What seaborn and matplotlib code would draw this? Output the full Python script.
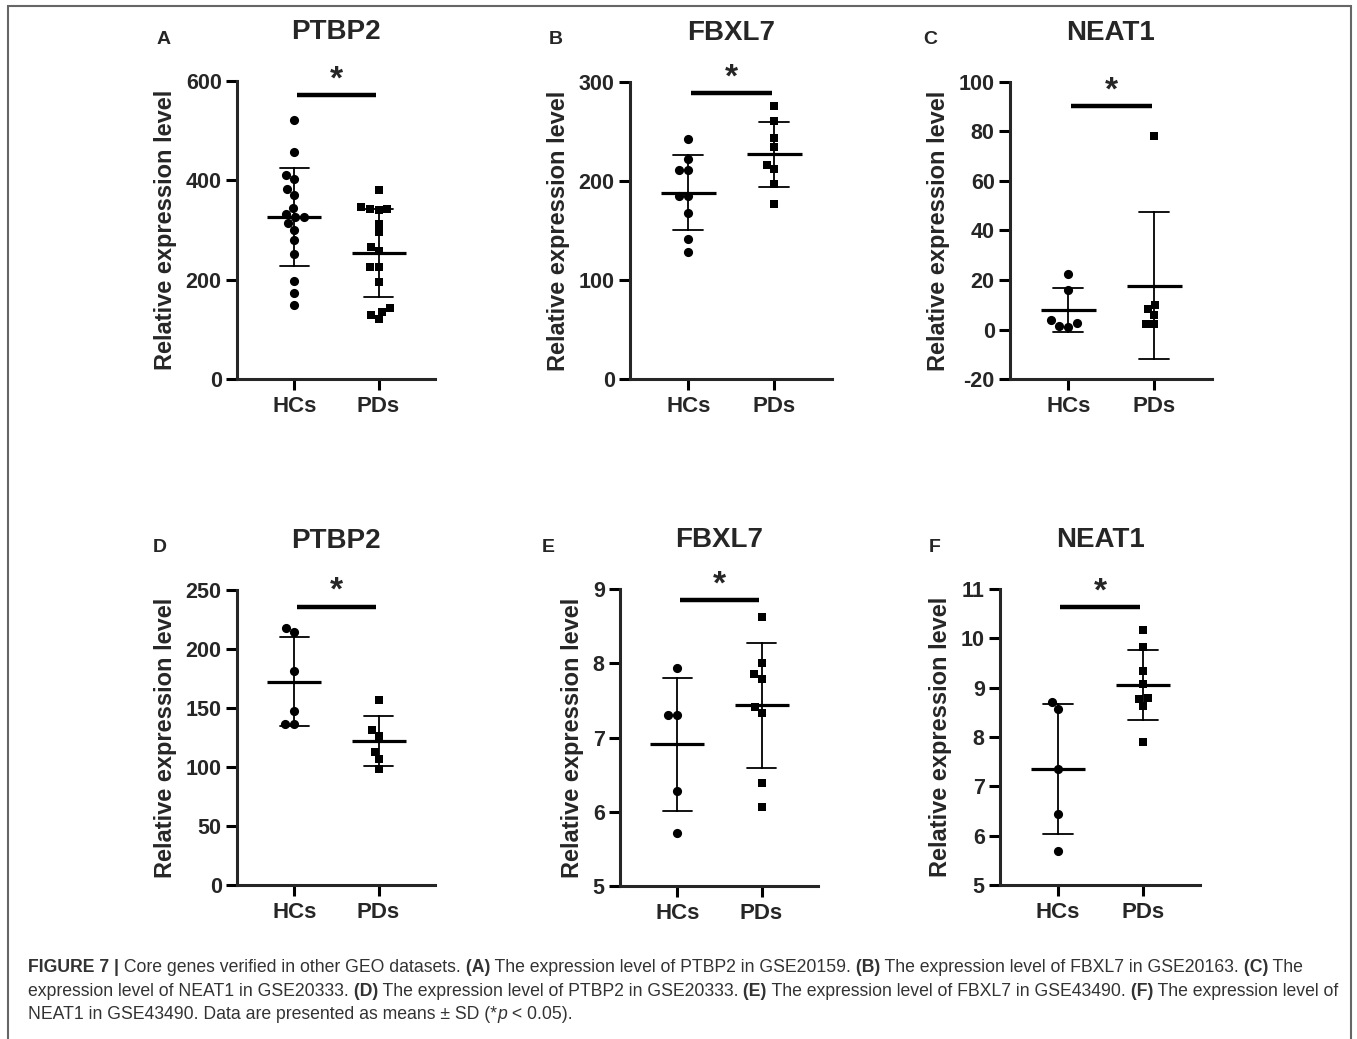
import numpy as np
import pandas as pd
import matplotlib
matplotlib.use('Agg')
import matplotlib.pyplot as plt
import matplotlib.transforms as mtransforms
import seaborn as sns

# data (relative expression level per sample)
groups = ['HCs', 'PDs']

a_hcs = [522, 458, 410, 402, 383, 370, 345, 332, 327, 327, 314, 300, 280, 251, 197, 174, 149]
a_pds = [381, 346, 343, 343, 340, 313, 296, 266, 257, 226, 225, 196, 142, 135, 129, 120]
b_hcs = [242, 222, 211, 211, 185, 185, 168, 141, 128]
b_pds = [276, 261, 243, 234, 216, 212, 197, 177]
c_hcs = [22.5, 15.9, 3.8, 2.7, 1.5, 1.2]
c_pds = [78.0, 9.9, 8.1, 5.8, 2.1, 2.1]
d_hcs = [217.5, 214.0, 181.6, 147.7, 136.4, 136.4]
d_pds = [157.0, 131.0, 126.0, 113.0, 106.5, 98.0]
e_hcs = [7.94, 7.30, 7.30, 6.28, 5.72]
e_pds = [8.62, 8.00, 7.85, 7.79, 7.41, 7.33, 6.39, 6.07]
f_hcs = [8.71, 8.56, 7.35, 6.43, 5.68]
f_pds = [10.16, 9.82, 9.33, 9.08, 8.80, 8.77, 8.62, 7.89]

titles = ['PTBP2', 'FBXL7', 'NEAT1', 'PTBP2', 'FBXL7', 'NEAT1']
letters = ['A', 'B', 'C', 'D', 'E', 'F']
yticks = [np.arange(0, 601, 200), np.arange(0, 301, 100), np.arange(-20, 101, 20),
          np.arange(0, 251, 50), np.arange(5, 10), np.arange(5, 12)]
panel_data = [(a_hcs, a_pds), (b_hcs, b_pds), (c_hcs, c_pds),
              (d_hcs, d_pds), (e_hcs, e_pds), (f_hcs, f_pds)]

# layout in pixels
W, H = 1357, 1039
boxes = [(237, 81, 435, 379), (630, 82, 832, 379), (1010, 82, 1212, 379),
         (237, 590, 435, 885), (620, 589, 818, 886), (1000, 589, 1200, 885)]
letter_pos = [(164, 40), (556, 40), (930, 40), (160, 548), (548, 548), (935, 548)]
bar_frac = [0.952, 0.963, 0.918, 0.944, 0.962, 0.938]

sns.set_style('ticks')
plt.rcParams['font.family'] = ['Liberation Sans', 'DejaVu Sans']
plt.rcParams['axes.unicode_minus'] = False

fig = plt.figure(figsize=(W / 100, H / 100), dpi=100)

for i in range(6):
    l, t, r, b = boxes[i]
    ax = fig.add_axes([l / W, 1 - b / H, (r - l) / W, (b - t) / H])
    hcs, pds = panel_data[i]
    df = pd.DataFrame({'group': ['HCs'] * len(hcs) + ['PDs'] * len(pds),
                       'value': hcs + pds})

    sns.swarmplot(data=df[df.group == 'HCs'], x='group', y='value', order=groups,
                  color='black', marker='o', size=6.6, ax=ax, zorder=3)
    sns.swarmplot(data=df[df.group == 'PDs'], x='group', y='value', order=groups,
                  color='black', marker='s', size=6.0, ax=ax, zorder=3)
    # mean +- SD
    sns.pointplot(data=df, x='group', y='value', order=groups, errorbar='sd',
                  capsize=0.35, color='black', linestyle='none', marker='',
                  err_kws={'linewidth': 1.3}, ax=ax, zorder=4)
    means = df.groupby('group')['value'].mean().reindex(groups).values
    xs = np.arange(len(groups))
    ax.hlines(means, xs - 0.32, xs + 0.32, color='black', lw=2.3, zorder=5)

    ax.set_xlim(-0.68, 1.67)
    ax.set_ylim(yticks[i][0], yticks[i][-1])
    ax.set_yticks(yticks[i])
    ax.set_xlabel('')
    ax.set_ylabel('Relative expression level', fontsize=17, fontweight='bold', labelpad=6)
    sns.despine(ax=ax)
    for sp in ['left', 'bottom']:
        ax.spines[sp].set_linewidth(2.2)
    ax.tick_params(width=2.2, length=8, color='black')
    ax.tick_params(axis='y', labelsize=15.5, pad=3)
    ax.tick_params(axis='x', labelsize=16, pad=4)
    for lab in ax.get_xticklabels() + ax.get_yticklabels():
        lab.set_fontweight('bold')
    ax.set_title(titles[i], fontsize=20, fontweight='bold', pad=30)

    # significance bracket
    trans = mtransforms.blended_transform_factory(ax.transData, ax.transAxes)
    ax.plot([0.03, 0.97], [bar_frac[i]] * 2, color='black', lw=3.2,
            transform=trans, clip_on=False, solid_capstyle='butt')
    ax.annotate('*', xy=(0.5, bar_frac[i]), xycoords=trans, xytext=(0, 11),
                textcoords='offset points', ha='center', va='center',
                fontsize=24, fontweight='bold', annotation_clip=False)

    lx, ly = letter_pos[i]
    fig.text(lx / W, 1 - ly / H, letters[i], fontsize=14, fontweight='bold',
             ha='center', va='center')

# frame around the figure
fig.add_artist(plt.Rectangle((8 / W, -0.05), (1351 - 8) / W, 1.05 - 6 / H,
                             transform=fig.transFigure, fill=False,
                             edgecolor='#666666', lw=1.5))

# caption with mixed bold / italic runs
cap_ax = fig.add_axes([0, 0, 1, 1])
cap_ax.axis('off')
caption = [
    [('FIGURE 7 |', 'bold', 'normal'),
     (' Core genes verified in other GEO datasets.', 'normal', 'normal'),
     (' (A)', 'bold', 'normal'), (' The expression level of PTBP2 in GSE20159.', 'normal', 'normal'),
     (' (B)', 'bold', 'normal'), (' The expression level of FBXL7 in GSE20163.', 'normal', 'normal'),
     (' (C)', 'bold', 'normal'), (' The', 'normal', 'normal')],
    [('expression level of NEAT1 in GSE20333.', 'normal', 'normal'),
     (' (D)', 'bold', 'normal'), (' The expression level of PTBP2 in GSE20333.', 'normal', 'normal'),
     (' (E)', 'bold', 'normal'), (' The expression level of FBXL7 in GSE43490.', 'normal', 'normal'),
     (' (F)', 'bold', 'normal'), (' The expression level of', 'normal', 'normal')],
    [('NEAT1 in GSE43490. Data are presented as means \u00b1 SD (*', 'normal', 'normal'),
     ('p', 'normal', 'italic'), (' < 0.05).', 'normal', 'normal')],
]
cap_size = 12.7
cap_bottoms = [976, 1000, 1023]
for line, yb in zip(caption, cap_bottoms):
    txt, w, s = line[0]
    prev = cap_ax.text(28 / W, 1 - yb / H, txt, fontsize=cap_size, fontweight=w, fontstyle=s,
                       color='#333333', va='bottom', ha='left', transform=cap_ax.transAxes)
    for txt, w, s in line[1:]:
        prev = cap_ax.annotate(txt, xy=(1, 0), xycoords=prev, va='bottom', ha='left',
                               fontsize=cap_size, fontweight=w, fontstyle=s, color='#333333')

fig.savefig('out.png', dpi=100)
